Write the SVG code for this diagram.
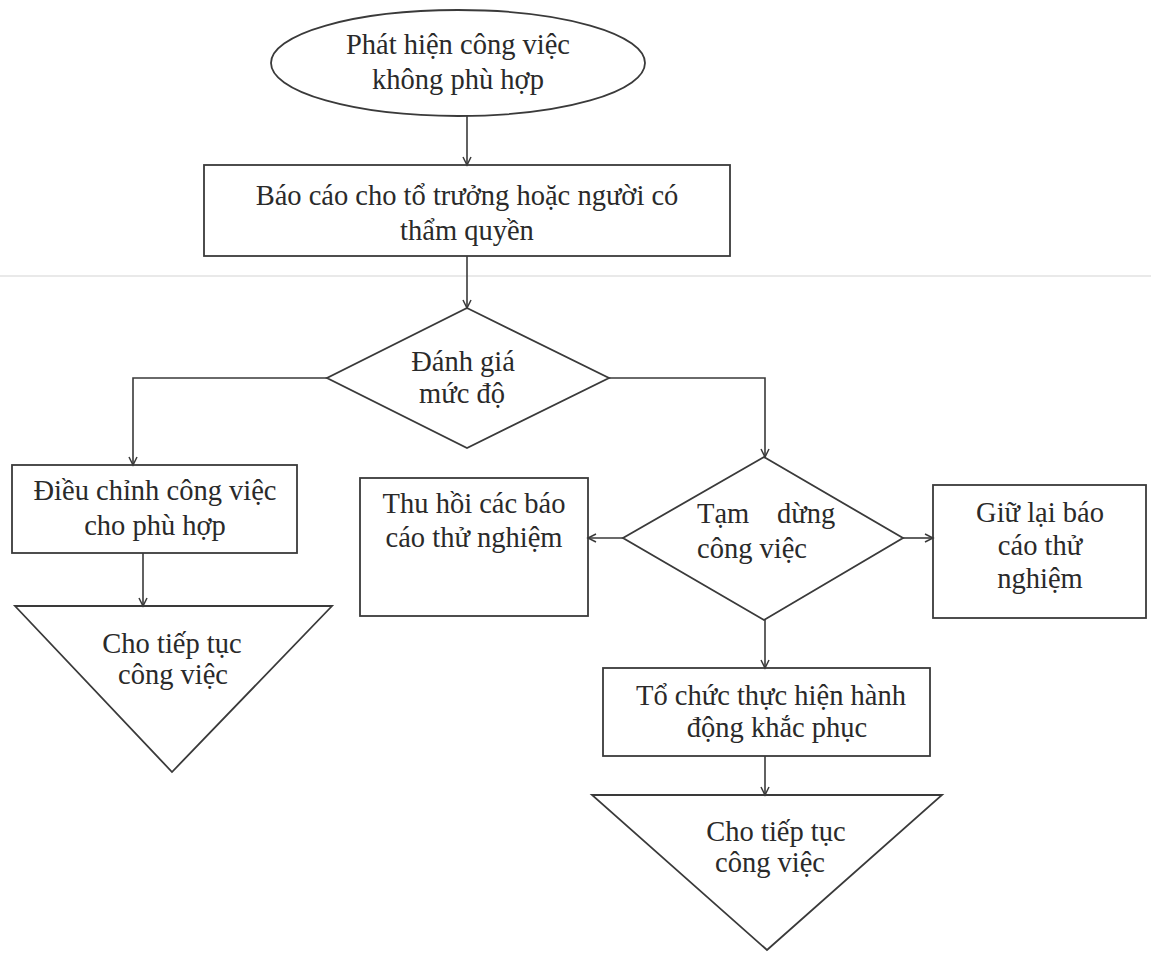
<svg xmlns="http://www.w3.org/2000/svg" width="1151" height="953" viewBox="0 0 1151 953">
<style>
.shape{fill:none;stroke:#3a3a3a;stroke-width:1.8}
.conn{fill:none;stroke:#3a3a3a;stroke-width:1.6}
.lbl{font-family:"Liberation Serif","Times New Roman",serif;font-size:28.5px;fill:#2a2a2a}
.mid{text-anchor:middle}
</style>
<defs>
<marker id="arr" markerUnits="userSpaceOnUse" markerWidth="12" markerHeight="12" refX="9" refY="5" orient="auto">
<path d="M1,1 L9,5 L1,9" fill="none" stroke="#3a3a3a" stroke-width="1.5"/>
</marker>
</defs>
<rect width="1151" height="953" fill="#ffffff"/>
<line x1="0" y1="276" x2="1151" y2="276" stroke="#e2e2e2" stroke-width="1.5"/>

<g id="connectors">
<line class="conn" x1="467" y1="116" x2="467" y2="165" marker-end="url(#arr)"/>
<line class="conn" x1="467" y1="256" x2="467" y2="308" marker-end="url(#arr)"/>
<polyline class="conn" points="327,378 133,378 133,465" marker-end="url(#arr)"/>
<polyline class="conn" points="609,378 765,378 765,457" marker-end="url(#arr)"/>
<line class="conn" x1="143" y1="553" x2="143" y2="606" marker-end="url(#arr)"/>
<line class="conn" x1="623" y1="538" x2="588" y2="538" marker-end="url(#arr)"/>
<line class="conn" x1="903" y1="538" x2="933" y2="538" marker-end="url(#arr)"/>
<line class="conn" x1="765" y1="620" x2="765" y2="668" marker-end="url(#arr)"/>
<line class="conn" x1="765" y1="756" x2="765" y2="795" marker-end="url(#arr)"/>
</g>

<g id="start">
<ellipse class="shape" cx="458" cy="63" rx="187" ry="53"/>
<text class="lbl mid" x="458" y="54">Phát hiện công việc</text>
<text class="lbl mid" x="458" y="89">không phù hợp</text>
</g>

<g id="report">
<rect class="shape" x="204" y="165" width="526" height="91"/>
<text class="lbl mid" x="467" y="205">Báo cáo cho tổ trưởng hoặc người có</text>
<text class="lbl mid" x="467" y="240">thẩm quyền</text>
</g>

<g id="assess">
<polygon class="shape" points="467,308 609,378 467,448 327,378"/>
<text class="lbl mid" x="463" y="371">Đánh giá</text>
<text class="lbl mid" x="462" y="403">mức độ</text>
</g>

<g id="adjust">
<rect class="shape" x="12" y="465" width="285" height="88"/>
<text class="lbl mid" x="155" y="500">Điều chỉnh công việc</text>
<text class="lbl mid" x="155" y="535">cho phù hợp</text>
</g>

<g id="continue1">
<polygon class="shape" points="15,606 332,606 172,772"/>
<text class="lbl mid" x="172" y="653">Cho tiếp tục</text>
<text class="lbl mid" x="173" y="684">công việc</text>
</g>

<g id="recall">
<rect class="shape" x="360" y="478" width="228" height="138"/>
<text class="lbl mid" x="474" y="513">Thu hồi các báo</text>
<text class="lbl mid" x="474" y="547">cáo thử nghiệm</text>
</g>

<g id="pause">
<polygon class="shape" points="764,457 903,538 764,620 623,538"/>
<text class="lbl" y="523"><tspan x="697">Tạm</tspan><tspan x="777">dừng</tspan></text>
<text class="lbl" x="697" y="558">công việc</text>
</g>

<g id="keep">
<rect class="shape" x="933" y="485" width="213" height="133"/>
<text class="lbl mid" x="1040" y="522">Giữ lại báo</text>
<text class="lbl mid" x="1040" y="555">cáo thử</text>
<text class="lbl mid" x="1040" y="588">nghiệm</text>
</g>

<g id="corrective">
<rect class="shape" x="603" y="668" width="327" height="88"/>
<text class="lbl mid" x="771" y="705">Tổ chức thực hiện hành</text>
<text class="lbl mid" x="777" y="737">động khắc phục</text>
</g>

<g id="continue2">
<polygon class="shape" points="592,795 942,795 767,950"/>
<text class="lbl mid" x="776" y="841">Cho tiếp tục</text>
<text class="lbl mid" x="770" y="872">công việc</text>
</g>
</svg>
